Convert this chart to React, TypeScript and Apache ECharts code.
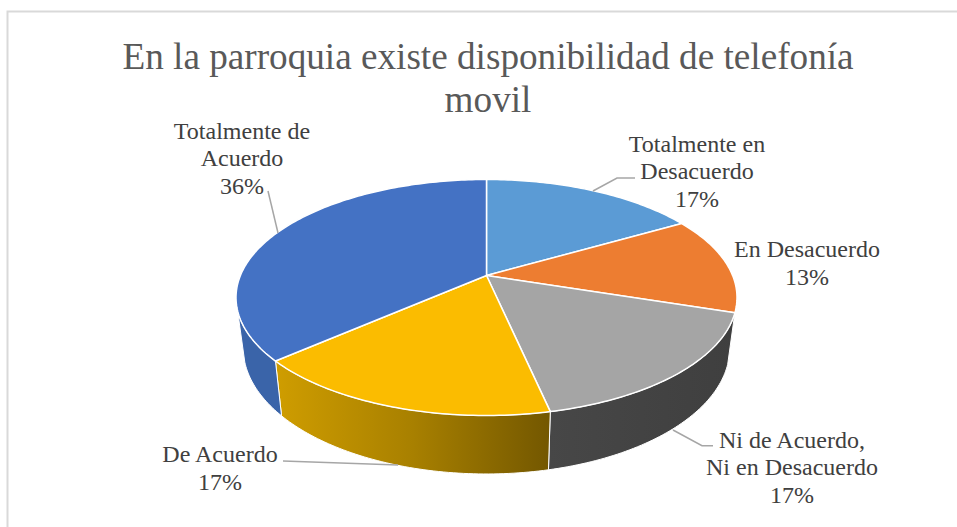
import React, { useEffect, useRef } from "react";
import * as echarts from "echarts";

const titleText = "En la parroquia existe disponibilidad de telefonía\nmovil";
const categories = [
  "Totalmente en\nDesacuerdo",
  "En Desacuerdo",
  "Ni de Acuerdo,\nNi en Desacuerdo",
  "De Acuerdo",
  "Totalmente de\nAcuerdo",
];
const shares = [16.7, 13.3, 16.6, 16.95, 36.45];
const topColors = ["#5B9BD5", "#ED7D31", "#A5A5A5", "#FBBC00", "#4472C4"];

// Layout only (not data)
const CX = 486.5;
const K = 0.1864;
const TOP = { cy: 275.5, a: 113.9, b: 246.1 };
const BOTTOM = { cy: 324.5, a: 121.6, b: 239 };
const WALL_FROM = 108;
const WALL_TO = 253;
const labelCenters = [
  [697, 171],
  [807, 263],
  [792, 467],
  [220, 468],
  [242, 158],
];
const leaders: number[][][] = [
  [[593, 191], [617, 178], [635, 178]],
  [],
  [[673, 430], [702, 445.7], [713, 445.7]],
  [[283, 461], [398, 465]],
  [[268, 191], [278, 233]],
];

const total = shares.reduce((a, b) => a + b, 0);
const starts: number[] = [];
shares.reduce((acc, v, i) => {
  starts[i] = acc;
  return acc + v;
}, 0);
const deg = (share: number) => (share / total) * 360;

function project(disc: { cy: number; a: number; b: number }, theta: number) {
  const t = (theta * Math.PI) / 180;
  const d = 1 + K * Math.cos(t);
  return [CX + (disc.b * Math.sin(t)) / d, disc.cy - (disc.a * Math.cos(t)) / d];
}

function arc(disc: typeof TOP, from: number, to: number) {
  const pts: number[][] = [];
  const n = Math.max(2, Math.ceil(Math.abs(to - from)));
  for (let i = 0; i <= n; i++) pts.push(project(disc, from + ((to - from) * i) / n));
  return pts;
}

const wallFill = (i: number): any => {
  if (i === 3)
    return {
      type: "linear", x: 0, y: 0, x2: 1, y2: 0,
      colorStops: [
        { offset: 0, color: "#CF9D00" },
        { offset: 0.5, color: "#A88000" },
        { offset: 1, color: "#735700" },
      ],
    };
  if (i === 2)
    return {
      type: "linear", x: 0, y: 0, x2: 1, y2: 0,
      colorStops: [
        { offset: 0, color: "#474747" },
        { offset: 1, color: "#3F3F3F" },
      ],
    };
  return "#3A64A9";
};

export default function App() {
  const ref = useRef<HTMLDivElement>(null);
  useEffect(() => {
    document.body.style.margin = "0";
    const chart = echarts.init(ref.current!, undefined, { renderer: "svg" });
    chart.setOption({
      animation: false,
      backgroundColor: "#fff",
      title: {
        text: titleText,
        left: 483,
        top: 30,
        textAlign: "center",
        textStyle: {
          fontFamily: "Liberation Serif",
          fontWeight: "normal",
          fontSize: 37.2,
          lineHeight: 43,
          color: "#595959",
        },
      },
      graphic: [
        {
          type: "polyline",
          silent: true,
          shape: { points: [[7.5, 527], [7.5, 11.5], [957, 11.5]] },
          style: { stroke: "#D9D9D9", lineWidth: 2, fill: "none" },
        },
      ],
      series: [
        {
          type: "custom",
          coordinateSystem: "none",
          silent: true,
          z: 2,
          data: shares,
          renderItem: (params: any, api: any) => {
            const i = params.dataIndex;
            const a0 = deg(starts[i]);
            const a1 = a0 + deg(api.value(0));
            const from = Math.max(a0, WALL_FROM);
            const to = Math.min(a1, WALL_TO);
            if (to <= from) return { type: "group", children: [] };
            const pts = [...arc(TOP, from, to), ...arc(BOTTOM, to, from)];
            return {
              type: "polygon",
              shape: { points: pts },
              style: { fill: wallFill(i), stroke: "#fff", lineWidth: 1 },
            };
          },
        },
        {
          type: "custom",
          coordinateSystem: "none",
          silent: true,
          z: 3,
          data: shares,
          renderItem: (params: any, api: any) => {
            const i = params.dataIndex;
            const a0 = deg(starts[i]);
            const v = api.value(0);
            const pts = [[CX, TOP.cy], ...arc(TOP, a0, a0 + deg(v))];
            return {
              type: "polygon",
              shape: { points: pts },
              style: { fill: topColors[i], stroke: "#fff", lineWidth: 1.5, lineJoin: "round" },
            };
          },
        },
        {
          type: "custom",
          coordinateSystem: "none",
          silent: true,
          z: 4,
          data: shares,
          renderItem: (params: any, api: any) => {
            const i = params.dataIndex;
            const pct = Math.round((api.value(0) / total) * 100);
            const children: any[] = [
              {
                type: "text",
                style: {
                  x: labelCenters[i][0],
                  y: labelCenters[i][1],
                  text: `${categories[i]}\n${pct}%`,
                  align: "center",
                  verticalAlign: "middle",
                  fill: "#404040",
                  fontFamily: "Liberation Serif",
                  fontSize: 24,
                  lineHeight: 27.5,
                },
              },
            ];
            if (leaders[i].length)
              children.push({
                type: "polyline",
                shape: { points: leaders[i] },
                style: { stroke: "#A6A6A6", lineWidth: 1.5, fill: "none" },
              });
            return { type: "group", children };
          },
        },
      ],
    });
    return () => chart.dispose();
  }, []);
  return <div ref={ref} style={{ width: 957, height: 527 }} />;
}
